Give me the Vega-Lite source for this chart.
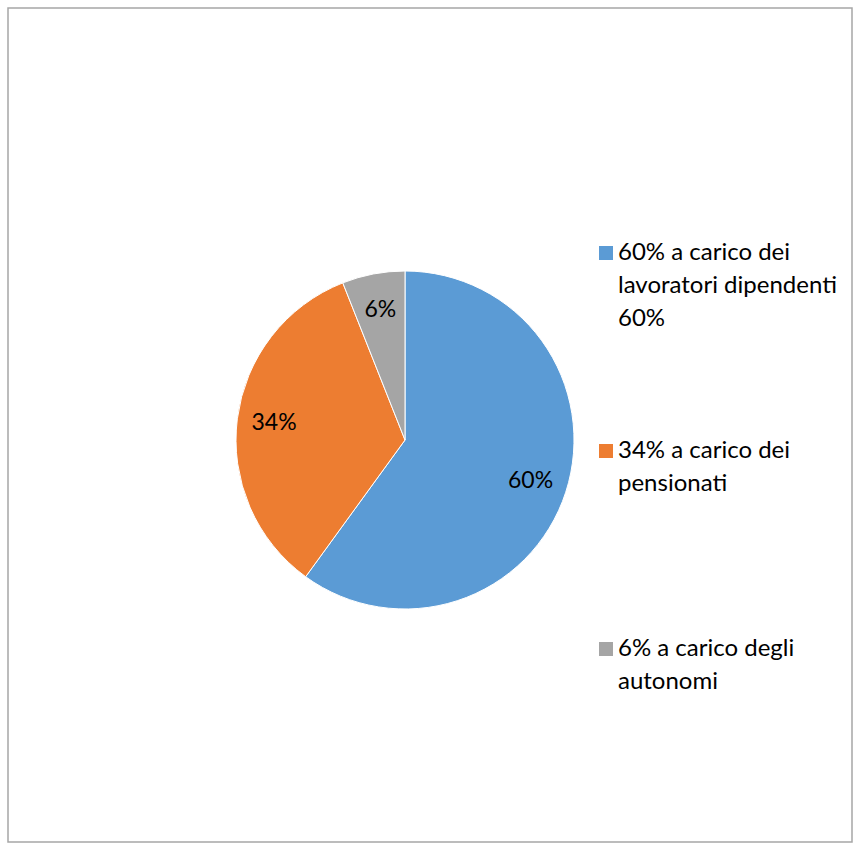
{
  "$schema": "https://vega.github.io/schema/vega-lite/v6.json",
  "autosize": {"type": "none"},
  "padding": {"left": 8, "top": 8, "right": 4, "bottom": 4},
  "width": 844,
  "height": 834,
  "background": "white",
  "view": {"stroke": "#a6a6a6", "strokeWidth": 1.5, "fill": "white"},
  "config": {
    "view": {"stroke": "#a6a6a6", "strokeWidth": 1.5},
    "style": {"guide-label": {"lineHeight": 33, "dy": -12}}
  },
  "data": {
    "values": [
      {"cat": "60% a carico dei\nlavoratori dipendenti\n60%", "value": 60, "label": "60%", "ord": 1},
      {"cat": "34% a carico dei\npensionati", "value": 34, "label": "34%", "ord": 2},
      {"cat": "6% a carico degli\nautonomi", "value": 6, "label": "6%", "ord": 3}
    ]
  },
  "encoding": {
    "theta": {"field": "value", "type": "quantitative", "stack": true},
    "order": {"field": "ord", "type": "quantitative"},
    "color": {
      "field": "cat",
      "type": "nominal",
      "sort": null,
      "scale": {
        "domain": ["60% a carico dei\nlavoratori dipendenti\n60%", "34% a carico dei\npensionati", "6% a carico degli\nautonomi"],
        "range": ["#5B9BD5", "#ED7D31", "#A5A5A5"]
      },
      "legend": {
        "title": null,
        "orient": "none",
        "legendX": 586,
        "legendY": 233,
        "padding": 0,
        "symbolType": "square",
        "symbolSize": 196,
        "symbolStrokeWidth": 0,
        "symbolOpacity": 1,
        "labelFont": "Lato",
        "labelFontSize": 24,
        "labelColor": "#000000",
        "labelLimit": 400,
        "labelOffset": 0,
        "labelBaseline": "top",
        "labelExpr": "split(datum.label, '\\n')",
        "gridAlign": "all",
        "rowPadding": 108
      }
    }
  },
  "layer": [
    {
      "mark": {"type": "arc", "radius": 169, "xOffset": -25, "yOffset": 15, "stroke": "white", "strokeWidth": 1}
    },
    {
      "mark": {"type": "text", "radius": 132, "xOffset": -25, "yOffset": 15, "font": "Lato", "fontSize": 23, "color": "#000000"},
      "encoding": {
        "text": {"field": "label", "type": "nominal"},
        "color": {"value": "#000000"}
      }
    }
  ]
}
